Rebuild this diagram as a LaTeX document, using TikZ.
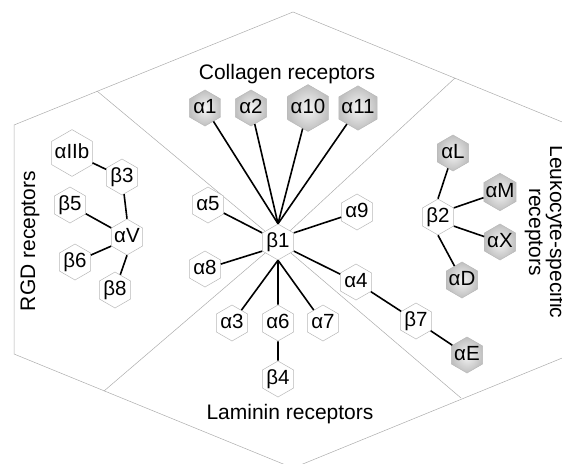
\documentclass[tikz,border=0pt]{standalone}
\usepackage{fontspec}
\setmainfont{Liberation Sans}
\usetikzlibrary{shapes.geometric,positioning}

\tikzset{
  hex/.style={regular polygon, regular polygon sides=6, shape border rotate=30,
    draw=gray!55, line width=0.5pt, fill=white, inner xsep=-3pt, inner ysep=-2pt,
    minimum size=36pt, text height=14.5pt, text depth=3.5pt,
    font=\fontsize{20.5}{20}\selectfont},
  hexdark/.style={hex, shading=radial, inner color=gray!8, outer color=gray!50},
  link/.style={line width=1.6pt},
  frame/.style={draw=gray!65, line width=0.5pt},
  title/.style={font=\fontsize{21}{21}\selectfont, align=center}
}

\begin{document}
\begin{tikzpicture}[x=1pt,y=-1pt,node distance=46pt,on grid]
  \useasboundingbox (0,0) rectangle (562,463);
  \clip (0,0) rectangle (562,463);

  % outline and sectors
  \coordinate (top) at (293,12);
  \coordinate (tr) at (572,126);
  \coordinate (br) at (572,354);
  \coordinate (bot) at (293,468);
  \coordinate (bl) at (14,354);
  \coordinate (tl) at (14,125);
  \coordinate (hub) at (278,242);
  \coordinate (c_tl) at (97,91);
  \coordinate (c_tr) at (455,78);
  \coordinate (c_bl) at (104,391);
  \coordinate (c_br) at (461,398);
  \draw[frame] (top) -- (tr) -- (br) -- (bot) -- (bl) -- (tl) -- cycle;
  \draw[frame] (hub) -- (c_tl) (hub) -- (c_tr) (hub) -- (c_bl) (hub) -- (c_br);

  % titles
  \node[title] (t_col) at (287,74) {Collagen receptors};
  \node[title] (t_lam) at (290,414) {Laminin receptors};
  \node[title, rotate=90] (t_rgd) at (30,241) {RGD receptors};
  \node[title, rotate=-90] (t_leu) at (545,232) {Leukocyte-specific\\receptors};

  % beta1 family
  \node[hex] (b_1) at (hub) {β1};
  \node[hexdark] (a_1) at (205,108) {α1};
  \node[hexdark] (a_2) [right=of a_1] {α2};
  \node[hexdark] (a_10) [right=57pt of a_2] {α10};
  \node[hexdark] (a_11) [right=50pt of a_10] {α11};
  \node[hex] (a_5) at (208,205) {α5};
  \node[hex] (a_9) at (357,212) {α9};
  \node[hex] (a_8) at (205,269) {α8};
  \node[hex] (a_6) at (278,323) {α6};
  \node[hex] (a_3) [left=of a_6] {α3};
  \node[hex] (a_7) [right=45pt of a_6] {α7};
  \node[hex] (b_4) [below=56pt of a_6] {β4};
  \node[hex] (a_4) at (356,282) {α4};
  \node[hex] (b_7) at (416,321) {β7};
  \node[hexdark] (a_E) at (467,355) {αE};

  % RGD
  \node[hex] (a_V) at (127,237) {αV};
  \node[hex] (a_IIb) at (72,153) {αIIb};
  \node[hex] (b_3) at (122,177) {β3};
  \node[hex] (b_5) at (70,205) {β5};
  \node[hex] (b_6) at (75,262) {β6};
  \node[hex] (b_8) at (115,290) {β8};

  % leukocyte
  \node[hex] (b_2) at (438,217) {β2};
  \node[hexdark] (a_L) at (453,153) {αL};
  \node[hexdark] (a_M) at (500,192) {αM};
  \node[hexdark] (a_X) at (500,242) {αX};
  \node[hexdark] (a_D) at (462,280) {αD};

  \path[link]
    (b_1.90) edge (a_1) edge (a_2) edge (a_10) edge (a_11)
    (b_1.150) edge (a_5)
    (b_1.30) edge (a_9)
    (b_1.210) edge (a_8)
    (b_1.330) edge (a_4)
    (b_1.270) edge (a_3) edge (a_6) edge (a_7)
    (a_6) edge (b_4)
    (a_4) edge (b_7)
    (b_7) edge (a_E)
    (a_IIb) edge (b_3)
    (b_3) edge (a_V.90)
    (a_V.150) edge (b_5)
    (a_V.210) edge (b_6)
    (a_V.270) edge (b_8)
    (b_2.90) edge (a_L)
    (b_2.30) edge (a_M)
    (b_2.330) edge (a_X)
    (b_2.270) edge (a_D);
\end{tikzpicture}
\end{document}
